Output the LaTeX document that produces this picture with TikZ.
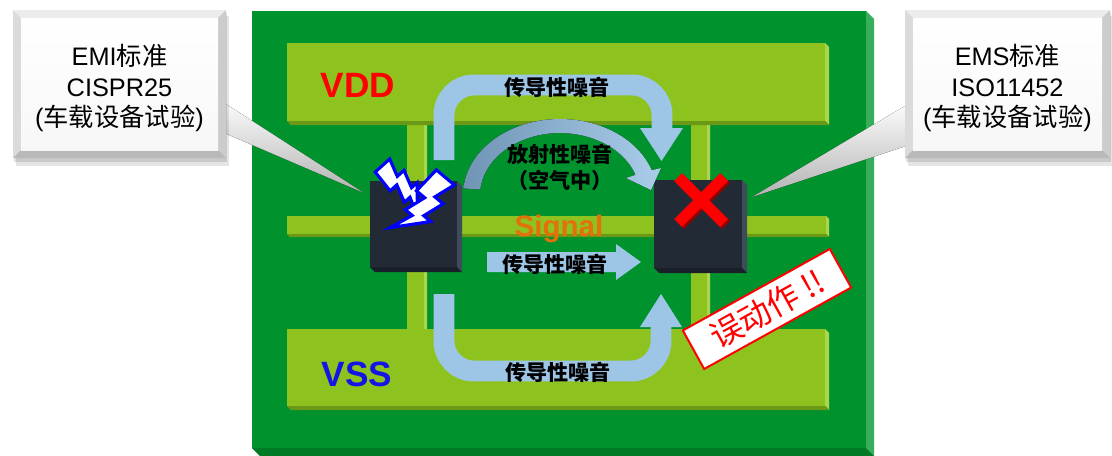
\documentclass[tikz,border=0pt]{standalone}
\usepackage{fontspec}
\setmainfont{Liberation Sans}
\newfontfamily\cjk{Noto Sans CJK SC}
\usetikzlibrary{calc}
\definecolor{Board}{HTML}{00932D}
\definecolor{BoardSide}{HTML}{37AE5B}
\definecolor{BoardBase}{HTML}{007A24}
\definecolor{Pad}{HTML}{8DC21F}
\definecolor{PadSide}{HTML}{AAD64F}
\definecolor{PadBase}{HTML}{6C9817}
\definecolor{Chip}{HTML}{222A35}
\definecolor{ChipSide}{HTML}{3E4B5B}
\definecolor{ChipBase}{HTML}{1A2029}
\definecolor{Flow}{HTML}{9CC5E6}
\definecolor{FlowDark}{HTML}{6F94B4}
\definecolor{FlowLight}{HTML}{AACDEA}
\definecolor{SigOrange}{HTML}{E4700C}
\definecolor{VssBlue}{HTML}{1414E6}

% extruded plate: x1 y1 x2 y2 depth face side base
\newcommand{\slab}[8]{%
  \fill[#7] (#3,#2) -- (#3+#5,#2+#5) -- (#3+#5,#4+#5) -- (#3,#4) -- cycle;
  \fill[#8] (#1,#4) -- (#3,#4) -- (#3+#5,#4+#5) -- (#1+#5,#4+#5) -- cycle;
  \fill[#6] (#1,#2) rectangle (#3,#4);}

% bevelled grey label box: x1 y1 x2 y2
\newcommand{\callout}[4]{%
  \fill[black, opacity=0.10] (#1+3,#2+6) rectangle (#3+3,#4+8);
  \fill[black, opacity=0.12] (#1+1,#2+3) rectangle (#3+1,#4+4);
  \fill[gray!15] (#1,#2) -- (#3,#2) -- (#3-8,#2+8) -- (#1+8,#2+8) -- cycle;
  \fill[gray!28] (#1,#2) -- (#1+8,#2+8) -- (#1+8,#4-8) -- (#1,#4) -- cycle;
  \fill[gray!40] (#3,#2) -- (#3,#4) -- (#3-8,#4-8) -- (#3-8,#2+8) -- cycle;
  \fill[gray!55] (#1,#4) -- (#3,#4) -- (#3-8,#4-8) -- (#1+8,#4-8) -- cycle;
  \fill[top color=white, bottom color=gray!6] (#1+8,#2+8) rectangle (#3-8,#4-8);}

\begin{document}
\begin{tikzpicture}[x=0.025cm, y=-0.025cm,
  lbl/.style={inner sep=0pt, font=\cjk\bfseries\fontsize{15}{18.5}\selectfont},
  flow/.style={draw=Flow, line width=14.9pt, rounded corners=0.75cm},
  bolt/.style={fill=white, draw=blue, line width=2.2pt, line join=miter}]
  \useasboundingbox (0,0) rectangle (1112,455);
  % board, traces and supply pads
  \slab{252}{11}{866}{448}{8}{Board}{BoardSide}{BoardBase}
  \slab{407}{120}{424}{329}{3}{Pad}{PadSide}{PadBase}
  \slab{691}{120}{707}{329}{3}{Pad}{PadSide}{PadBase}
  \slab{287}{216}{826}{234}{3}{Pad}{PadSide}{PadBase}
  \slab{287}{43}{825}{121}{4}{Pad}{PadSide}{PadBase}
  \slab{287}{329}{825}{406}{4}{Pad}{PadSide}{PadBase}
  % the two ICs
  \slab{370}{181}{457}{267}{5}{Chip}{ChipSide}{ChipBase}
  \slab{654}{180}{742}{268}{5}{Chip}{ChipSide}{ChipBase}
  \coordinate (src) at (364,193);
  \coordinate (vic) at (752,197);
  % conducted noise over VDD, VSS and the signal line
  \draw[flow] (444,160) -- (444,85) -- (662,85) -- (662,129);
  \fill[Flow] (640,128) -- (683,128) -- (661.5,161) -- cycle;
  \draw[flow] (444,294) -- (444,371) -- (661,371) -- (661,327);
  \fill[Flow] (640,327) -- (682,327) -- (661,294) -- cycle;
  \fill[Flow] (487,252) -- (616,252) -- (616,244) -- (641,262) -- (616,280)
    -- (616,272) -- (487,272) -- cycle;
  % radiated noise through the air
  \fill[left color=FlowDark, right color=FlowLight]
    (463.4,188.4) arc[start angle=185, end angle=341, x radius=97, y radius=76]
    -- (661,168) -- (651,190) -- (626,178) -- (635.6,174.8)
    arc[start angle=341, end angle=185, x radius=80, y radius=62] -- cycle;
  % labels on the board
  \node[font=\bfseries\fontsize{25}{30}\selectfont, red, anchor=base] (vdd) at (358,97) {VDD};
  \node[font=\bfseries\fontsize{25}{30}\selectfont, VssBlue, anchor=base] (vss) at (357,386) {VSS};
  \node[font=\bfseries\fontsize{21}{25}\selectfont, SigOrange, anchor=base] (sig) at (559,236) {Signal};
  \node[lbl] (cdtop) at (557,87) {传导性噪音};
  \node[lbl] (cdmid) at (555,264) {传导性噪音};
  \node[lbl] (cdbot) at (558,372) {传导性噪音};
  \node[lbl, align=center] (rad) at (560,167) {放射性噪音\\（空气中）};
  % fault mark on the victim IC
  \draw[line width=7.8pt, red!60!black] (680,179) -- (726,225) (726,179) -- (680,225);
  \draw[line width=7.8pt, red] (678,177) -- (724,223) (724,177) -- (678,223);
  % discharge bolts on the source IC
  \begin{scope}[shift={(383,165)}, rotate=42, scale=0.75]
    \draw[bolt] (-14,0) -- (12,0) -- (4,24) -- (16,24) -- (8,48) -- (18,48) -- (-12,82)
      -- (-2,56) -- (-12,56) -- (-4,32) -- (-16,32) -- cycle;
  \end{scope}
  \begin{scope}[shift={(446,178)}, rotate=-40, scale=0.9]
    \draw[bolt] (-14,0) -- (12,0) -- (4,24) -- (16,24) -- (8,48) -- (18,48) -- (-12,82)
      -- (-2,56) -- (-12,56) -- (-4,32) -- (-16,32) -- cycle;
  \end{scope}
  % standards callouts
  \fill[top color=white, bottom color=gray!60] (215,97) -- (src) -- (215,129) -- cycle;
  \fill[top color=white, bottom color=gray!60] (915,100) -- (vic) -- (915,143) -- cycle;
  \callout{13}{10}{226}{158}
  \callout{905}{10}{1110}{158}
  \node[align=center, inner sep=0pt, font=\fontsize{18}{22}\selectfont] (emi) at (119.5,88)
    {EMI{\cjk 标准}\\CISPR25\\({\cjk 车载设备试验})};
  \node[align=center, inner sep=0pt, font=\fontsize{18}{22}\selectfont] (ems) at (1007.5,88)
    {EMS{\cjk 标准}\\ISO11452\\({\cjk 车载设备试验})};
  % malfunction tag
  \node[draw=red, fill=white, line width=1.4pt, rotate=29, minimum width=4.2cm,
    minimum height=1.1cm, text=red, font=\cjk\fontsize{23}{26}\selectfont] (fault)
    at (767,309) {误动作 !!};
\end{tikzpicture}
\end{document}
